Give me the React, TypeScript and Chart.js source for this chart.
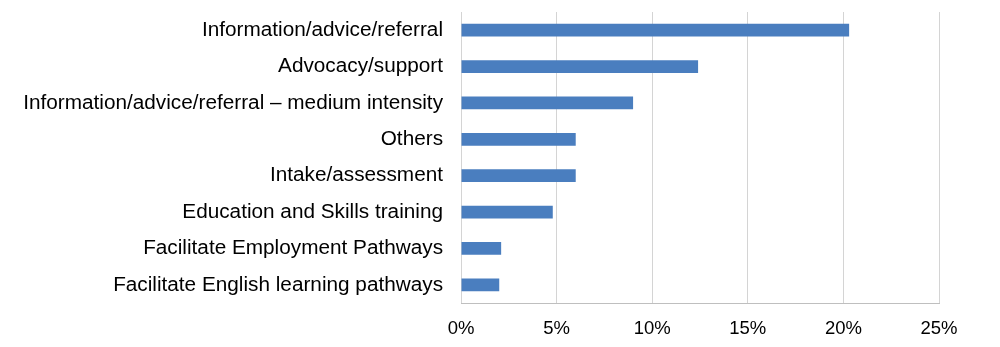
import React, { useEffect, useRef } from "react";
import { Chart, registerables } from "chart.js";

Chart.register(...registerables);

const categories = [
  "Information/advice/referral",
  "Advocacy/support",
  "Information/advice/referral – medium intensity",
  "Others",
  "Intake/assessment",
  "Education and Skills training",
  "Facilitate Employment Pathways",
  "Facilitate English learning pathways",
];

const shares = [20.3, 12.4, 9.0, 6.0, 6.0, 4.8, 2.1, 2.0];

const xTicks = [0, 5, 10, 15, 20, 25];

const FONT = "'Liberation Sans', Arial, Helvetica, sans-serif";

export default function App() {
  const ref = useRef<HTMLCanvasElement | null>(null);

  useEffect(() => {
    if (!ref.current) return;
    const chart = new Chart(ref.current, {
      type: "bar",
      data: {
        labels: categories,
        datasets: [
          {
            data: shares,
            backgroundColor: "#4A7EBF",
            borderWidth: 0,
            barPercentage: 0.35,
            categoryPercentage: 1,
          },
        ],
      },
      options: {
        indexAxis: "y",
        responsive: false,
        animation: false,
        maintainAspectRatio: false,
        layout: { padding: { top: 12, right: 61, bottom: 0, left: 0 } },
        plugins: {
          legend: { display: false },
          tooltip: { enabled: false },
        },
        scales: {
          x: {
            min: xTicks[0],
            max: xTicks[xTicks.length - 1],
            afterBuildTicks: (axis: any) => {
              axis.ticks = xTicks.map((v) => ({ value: v }));
            },
            afterFit: (axis: any) => {
              axis.height = 44;
              axis.paddingLeft = 0;
              axis.paddingRight = 0;
            },
            grid: {
              color: "#D4D4D4",
              lineWidth: 1,
              drawTicks: false,
            },
            border: { display: true, color: "#BFBFBF", width: 1 },
            ticks: {
              padding: 15,
              color: "#000000",
              font: { family: FONT, size: 18.5 },
              callback: (v: any) => `${v}%`,
            },
          },
          y: {
            afterFit: (axis: any) => {
              axis.width = 461;
              axis.paddingTop = 0;
              axis.paddingBottom = 0;
            },
            grid: { display: false, drawTicks: false },
            border: { display: false },
            ticks: {
              padding: 18,
              color: "#000000",
              font: { family: FONT, size: 20.75 },
            },
          },
        },
      },
    });
    return () => chart.destroy();
  }, []);

  return (
    <div style={{ position: "fixed", left: 0, top: 0, width: 1000, height: 347, background: "#fff" }}>
      <canvas ref={ref} width={1000} height={347} style={{ display: "block", width: 1000, height: 347 }} />
    </div>
  );
}
